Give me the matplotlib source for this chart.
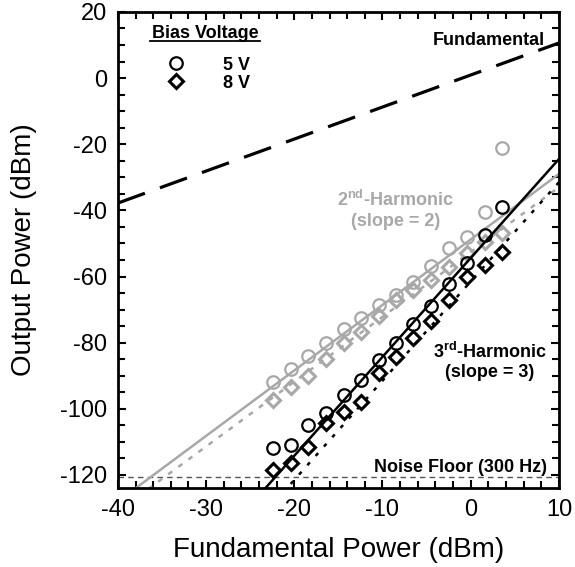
import matplotlib
matplotlib.use("Agg")
import matplotlib.pyplot as plt
from matplotlib.lines import Line2D
from matplotlib.ticker import MultipleLocator

plt.rcParams['font.family'] = ['Liberation Sans', 'DejaVu Sans']
plt.rcParams['mathtext.fontset'] = 'custom'
plt.rcParams['mathtext.rm'] = 'Liberation Sans:bold'
plt.rcParams['mathtext.bf'] = 'Liberation Sans:bold'
plt.rcParams['axes.unicode_minus'] = False

GRAY = "#a8a8a8"

# input (fundamental) power, dBm
pin = [-22.4, -20.4, -18.4, -16.4, -14.4, -12.4, -10.4, -8.5, -6.5, -4.5, -2.5, -0.4, 1.6, 3.6]

# 2nd harmonic output, dBm
h2_5v = [-92, -88, -84, -80, -76, -72.5, -68.5, -65.5, -61.7, -56.8, -51.5, -48, -40.5, -21]
h2_8v = [-97.3, -93.5, -90, -85, -80, -76.7, -72, -67, -64, -61, -57.2, -53, -49.5, -46.7]

# 3rd harmonic output, dBm
h3_5v = [-111.8, -110.9, -104.8, -101.2, -95.8, -91.2, -85.2, -80, -74.5, -69, -62.4, -56, -47.5, -39]
h3_8v = [-118.5, -116.4, -111.5, -104.2, -100.9, -97.9, -89.1, -84.2, -78.5, -73.6, -67, -60.3, -56.5, -52.7]

# fitted lines (end points over the x range)
line_x = [-40, 10]
fund_y = [-37.8, 10.6]
fit2_5v = [-128, -29]
fit2_8v = [-131, -33]
fit3_5v = [-174, -24.5]
fit3_8v = [-181.5, -31.5]
noise_floor = -120.5

fig = plt.figure(figsize=(5.75, 5.67), dpi=100)
ax = fig.add_axes([0.205, 0.139, 0.767, 0.840])

# noise floor
ax.plot(line_x, [noise_floor, noise_floor], color="#555555", lw=1.0, ls=(0, (4, 3)))

# fundamental
ax.plot(line_x, fund_y, color="black", lw=2.3, ls=(0, (9, 5)))

# 2nd harmonic
ax.plot(line_x, fit2_5v, color=GRAY, lw=1.8)
ax.plot(line_x, fit2_8v, color=GRAY, lw=1.8, ls=(0, (2, 3)))
ax.plot(pin, h2_5v, ls="none", marker="o", ms=9, mfc="none", mec=GRAY, mew=1.6)
ax.plot(pin, h2_8v, ls="none", marker="D", ms=7.5, mfc="none", mec=GRAY, mew=2.2)

# 3rd harmonic
ax.plot(line_x, fit3_5v, color="black", lw=1.8)
ax.plot(line_x, fit3_8v, color="black", lw=1.8, ls=(0, (1.5, 3.5)))
ax.plot(pin, h3_5v, ls="none", marker="o", ms=9, mfc="none", mec="black", mew=1.6)
ax.plot(pin, h3_8v, ls="none", marker="D", ms=7.5, mfc="none", mec="black", mew=2.2)

ax.set_xlim(-40, 10)
ax.set_ylim(-124, 20)
ax.xaxis.set_major_locator(MultipleLocator(10))
ax.xaxis.set_minor_locator(MultipleLocator(2))
ax.yaxis.set_major_locator(MultipleLocator(20))
ax.yaxis.set_minor_locator(MultipleLocator(5))
ax.tick_params(which="both", direction="in", top=True, right=True, width=1.5)
ax.tick_params(which="major", length=6, labelsize=17, pad=8)
ax.tick_params(which="minor", length=5)
for s in ax.spines.values():
    s.set_linewidth(2)

ax.set_xlabel("Fundamental Power (dBm)", fontsize=20, labelpad=11)
ax.set_ylabel("Output Power (dBm)", fontsize=20, labelpad=16)

# annotations
ax.text(8.4, 11.5, "Fundamental", fontsize=13, fontweight="bold", ha="right", va="center")
ax.text(-8.5, -36.9, r"2$^{\mathrm{nd}}$-Harmonic", fontsize=13, fontweight="bold",
        color=GRAY, ha="center", va="center")
ax.text(-8.5, -43.5, "(slope = 2)", fontsize=13, fontweight="bold", color=GRAY,
        ha="center", va="center")
ax.text(2.2, -82.8, r"3$^{\mathrm{rd}}$-Harmonic", fontsize=13, fontweight="bold",
        ha="center", va="center")
ax.text(2.2, -88.9, "(slope = 3)", fontsize=13, fontweight="bold", ha="center", va="center")
ax.text(8.6, -117.6, "Noise Floor (300 Hz)", fontsize=13, fontweight="bold",
        ha="right", va="center")

# bias voltage legend
ax.text(-30.1, 13.6, "Bias Voltage", fontsize=13, fontweight="bold", ha="center", va="center")
ax.plot([0.073, 0.322], [0.939, 0.939], transform=ax.transAxes, color="black", lw=1.3)
handles = [
    Line2D([], [], ls="none", marker="o", ms=9, mfc="none", mec="black", mew=1.6),
    Line2D([], [], ls="none", marker="D", ms=7.5, mfc="none", mec="black", mew=2.2),
]
ax.legend(handles, ["5 V", "8 V"], loc="upper left", bbox_to_anchor=(0.09, 0.925),
          frameon=False, handlelength=1.0, handletextpad=2.1, labelspacing=0.05,
          borderpad=0, prop={"weight": "bold", "size": 13})

fig.savefig("out.png", dpi=100)
